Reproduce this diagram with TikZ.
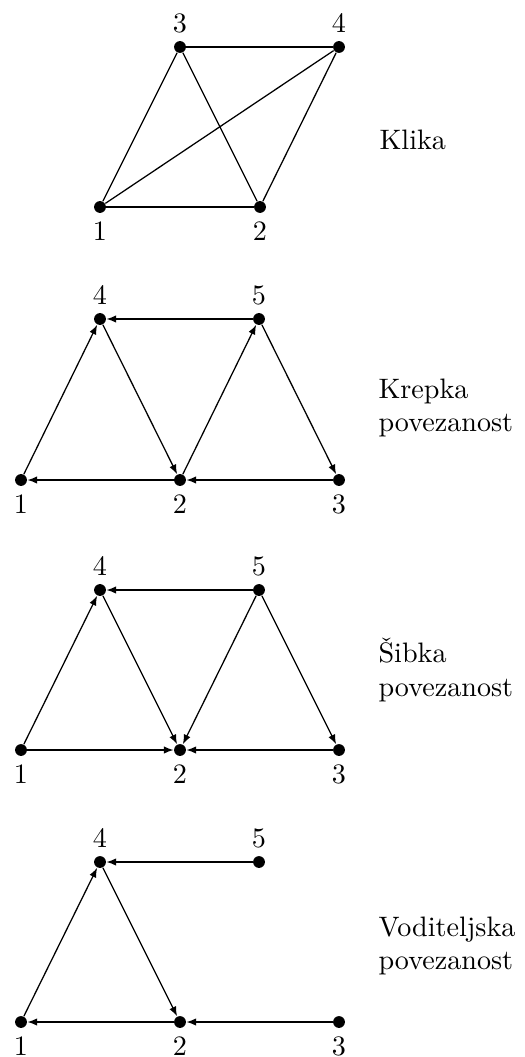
\documentclass[tikz,border=0pt]{standalone}
\usetikzlibrary{arrows.meta}
\begin{document}
\begin{tikzpicture}[x=0.0125cm,y=-0.0125cm,
  vtx/.style={circle,fill=black,inner sep=0pt,minimum size=4.2pt},
  lab/.style={inner sep=0pt},
  edge/.style={line width=0.45pt},
  arr/.style={line width=0.45pt,-{Latex[length=3.4pt,width=2.6pt]}},
  txt/.style={anchor=west,align=left,inner sep=0pt}]
\useasboundingbox (0,0) rectangle (524,1057);
% Panel 1: Klika
\node[vtx] (a1) at (100,207) {};
\node[vtx] (a2) at (260,207) {};
\node[vtx] (a3) at (180,47) {};
\node[vtx] (a4) at (339,47) {};
\node[lab] (la1) at (100,231) {1};
\node[lab] (la2) at (260,231) {2};
\node[lab] (la3) at (180,23) {3};
\node[lab] (la4) at (339,23) {4};
\draw[edge] (a3) -- (a4);
\draw[edge] (a3) -- (a1);
\draw[edge] (a3) -- (a2);
\draw[edge] (a4) -- (a1);
\draw[edge] (a4) -- (a2);
\draw[edge] (a1) -- (a2);
\node[txt] (ta) at (379,140) {Klika};
% Panel 2: Krepka povezanost
\node[vtx] (b1) at (21,480) {};
\node[vtx] (b2) at (180,480) {};
\node[vtx] (b3) at (339,480) {};
\node[vtx] (b4) at (100,319) {};
\node[vtx] (b5) at (259,319) {};
\node[lab] (lb1) at (21,504) {1};
\node[lab] (lb2) at (180,504) {2};
\node[lab] (lb3) at (339,504) {3};
\node[lab] (lb4) at (100,295) {4};
\node[lab] (lb5) at (259,295) {5};
\draw[arr] (b5) -- (b4);
\draw[arr] (b1) -- (b4);
\draw[arr] (b4) -- (b2);
\draw[arr] (b2) -- (b5);
\draw[arr] (b5) -- (b3);
\draw[arr] (b2) -- (b1);
\draw[arr] (b3) -- (b2);
\node[txt] (tb) at (378,408) {Krepka\\povezanost};
% Panel 3: Sibka povezanost
\node[vtx] (c1) at (21,750) {};
\node[vtx] (c2) at (180,750) {};
\node[vtx] (c3) at (339,750) {};
\node[vtx] (c4) at (100,590) {};
\node[vtx] (c5) at (259,590) {};
\node[lab] (lc1) at (21,774) {1};
\node[lab] (lc2) at (180,774) {2};
\node[lab] (lc3) at (339,774) {3};
\node[lab] (lc4) at (100,566) {4};
\node[lab] (lc5) at (259,566) {5};
\draw[arr] (c5) -- (c4);
\draw[arr] (c1) -- (c4);
\draw[arr] (c4) -- (c2);
\draw[arr] (c5) -- (c2);
\draw[arr] (c5) -- (c3);
\draw[arr] (c1) -- (c2);
\draw[arr] (c3) -- (c2);
\node[txt] (tc) at (378,670) {Šibka\\povezanost};
% Panel 4: Voditeljska povezanost
\node[vtx] (d1) at (21,1022) {};
\node[vtx] (d2) at (180,1022) {};
\node[vtx] (d3) at (339,1022) {};
\node[vtx] (d4) at (100,862) {};
\node[vtx] (d5) at (259,862) {};
\node[lab] (ld1) at (21,1046) {1};
\node[lab] (ld2) at (180,1046) {2};
\node[lab] (ld3) at (339,1046) {3};
\node[lab] (ld4) at (100,838) {4};
\node[lab] (ld5) at (259,838) {5};
\draw[arr] (d5) -- (d4);
\draw[arr] (d1) -- (d4);
\draw[arr] (d4) -- (d2);
\draw[arr] (d2) -- (d1);
\draw[arr] (d3) -- (d2);
\node[txt] (td) at (378,946) {Voditeljska\\povezanost};
\end{tikzpicture}
\end{document}
